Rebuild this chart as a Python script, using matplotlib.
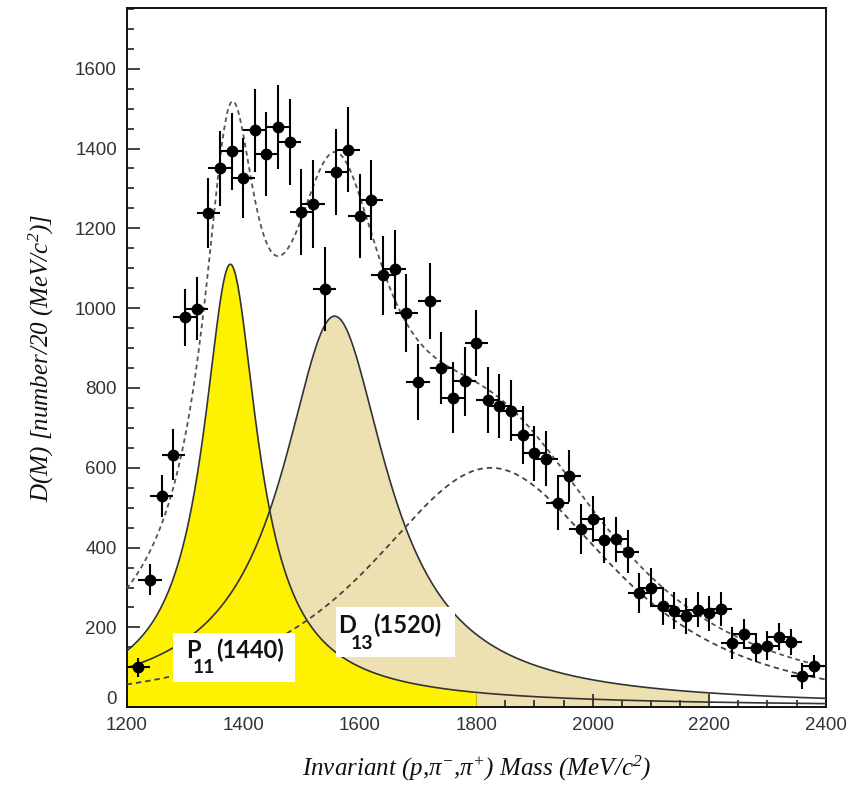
import numpy as np
import matplotlib
matplotlib.use("Agg")
import matplotlib.pyplot as plt
from matplotlib.patches import Rectangle
from matplotlib.transforms import ScaledTranslation
from matplotlib.ticker import MultipleLocator

plt.rcParams["mathtext.fontset"] = "custom"
plt.rcParams["mathtext.rm"] = "Liberation Serif:italic"
plt.rcParams["mathtext.it"] = "Liberation Serif:italic"

# Invariant-mass bin centres (MeV/c^2) and measured D(M) with statistical errors
mass = [1220, 1240, 1260, 1280, 1300, 1320, 1340, 1360, 1380, 1400,
        1420, 1440, 1460, 1480, 1500, 1520, 1540, 1560, 1580, 1600,
        1620, 1640, 1660, 1680, 1700, 1720, 1740, 1760, 1780, 1800,
        1820, 1840, 1860, 1880, 1900, 1920, 1940, 1960, 1980, 2000,
        2020, 2040, 2060, 2080, 2100, 2120, 2140, 2160, 2180, 2200,
        2220, 2240, 2260, 2280, 2300, 2320, 2340, 2360, 2380]
counts = [100, 320, 530, 633, 977, 998, 1239, 1350, 1393, 1326,
          1446, 1386, 1454, 1416, 1241, 1260, 1048, 1341, 1397, 1231,
          1271, 1082, 1097, 988, 814, 1018, 851, 776, 817, 913,
          770, 754, 743, 682, 636, 623, 513, 579, 447, 471,
          419, 421, 390, 286, 300, 254, 242, 229, 244, 235,
          246, 160, 183, 149, 154, 177, 163, 79, 104]
errors = [23, 39, 53, 63, 72, 79, 88, 94, 97, 100,
          104, 106, 106, 107, 108, 110, 106, 108, 106, 105,
          101, 100, 100, 98, 95, 95, 90, 88, 86, 83,
          83, 80, 76, 73, 70, 68, 70, 65, 62, 58,
          58, 56, 54, 50, 50, 48, 46, 45, 44, 43,
          42, 40, 38, 36, 36, 34, 33, 32, 28]
bin_half_width = 20

# Fitted line-shape parameters: amplitude, pole mass, width scale, shape power
p11 = dict(amp=1110, m0=1378, a=51, p=0.8)
d13 = dict(amp=980, m0=1557, a=104, p=0.9)
bkg = dict(amp=600, m0=1825, a=321, p=1.5)
p11_fill_end = 1800
d13_fill_end = 2200


def line_shape(m, amp, m0, a, p):
    return amp / (1.0 + ((m - m0) / a) ** 2) ** p


fig = plt.figure(figsize=(8.5, 7.87), dpi=100)
ax = fig.add_axes([0.149, 0.1013, 0.8224, 0.8885])

m = np.linspace(1200, 2400, 1201)
y_p11 = line_shape(m, **p11)
y_d13 = line_shape(m, **d13)
y_bkg = line_shape(m, **bkg)
y_tot = y_p11 + y_d13 + y_bkg

ax.fill_between(m, 0, y_d13, where=m <= d13_fill_end, color="#EDE1B2", lw=0, zorder=1)
ax.fill_between(m, 0, y_p11, where=m <= p11_fill_end, color="#FFF200", lw=0, zorder=2)
ax.plot(m, y_p11, color="#333333", lw=1.2, zorder=3)
ax.plot(m, y_d13, color="#333333", lw=1.2, zorder=3)
ax.plot(m, y_bkg, color="#444444", lw=1.3, dashes=(3, 2.2), zorder=3)
ax.plot(m, y_tot, color="#555555", lw=1.3, dashes=(2.6, 2.0), zorder=3)

# Resonance labels on white boxes
label_font = dict(family=["Lato", "DejaVu Sans"], weight="bold", color="#111111")
ax.add_patch(Rectangle((1280, 64), 209, 121, facecolor="white", edgecolor="none", zorder=4))
ax.add_patch(Rectangle((1560, 127), 204, 125, facecolor="white", edgecolor="none", zorder=4))


def resonance_label(x, y, letter, sub, mass_txt, dx_sub, dx_mass):
    ax.annotate(letter, (x, y), xytext=(0, 0), textcoords="offset points",
                fontsize=17, va="baseline", ha="left", zorder=5, **label_font)
    ax.annotate(sub, (x, y), xytext=(dx_sub, -11), textcoords="offset points",
                fontsize=14, va="baseline", ha="left", zorder=5, **label_font)
    ax.annotate(mass_txt, (x, y), xytext=(dx_mass, 0), textcoords="offset points",
                fontsize=17, va="baseline", ha="left", zorder=5, **label_font)


resonance_label(1302, 123, "P", "11", "(1440)", 4.5, 21.5)
resonance_label(1563, 185, "D", "13", "(1520)", 9.0, 25.0)

ax.errorbar(mass, counts, yerr=errors, xerr=bin_half_width, fmt="o", color="black",
            ms=7.5, elinewidth=1.5, capsize=0, zorder=6)

ax.set_xlim(1200, 2400)
ax.set_ylim(0, 1752)
ax.xaxis.set_major_locator(MultipleLocator(200))
ax.xaxis.set_minor_locator(MultipleLocator(50))
ax.yaxis.set_major_locator(MultipleLocator(200))
ax.yaxis.set_minor_locator(MultipleLocator(50))
ax.set_yticks(np.arange(0, 1601, 200))
ax.tick_params(which="both", direction="in", top=False, right=False,
               colors="#222222", width=1.2)
ax.tick_params(which="major", length=9.5, labelsize=13.5, pad=7,
               labelcolor="#333333")
ax.tick_params(which="minor", length=5)
for lab in ax.get_xticklabels() + ax.get_yticklabels():
    lab.set_fontfamily("Liberation Sans")
for s in ax.spines.values():
    s.set_linewidth(1.4)
    s.set_color("#111111")

fig.canvas.draw()
zero_label = ax.yaxis.get_major_ticks()[0].label1
zero_label.set_transform(zero_label.get_transform()
                         + ScaledTranslation(0, 7 / 72, fig.dpi_scale_trans))

ax.set_xlabel(r"Invariant (p,π$^{-}$,π$^{+}$) Mass (MeV/c$^{2}$)",
              fontsize=18, family="Liberation Serif", style="italic", labelpad=14,
              color="#111111")
ax.set_ylabel(r"D(M) [number/20 (MeV/c$^{2}$)]",
              fontsize=18, family="Liberation Serif", style="italic", labelpad=14,
              color="#111111")

fig.savefig("out.png", dpi=100)
